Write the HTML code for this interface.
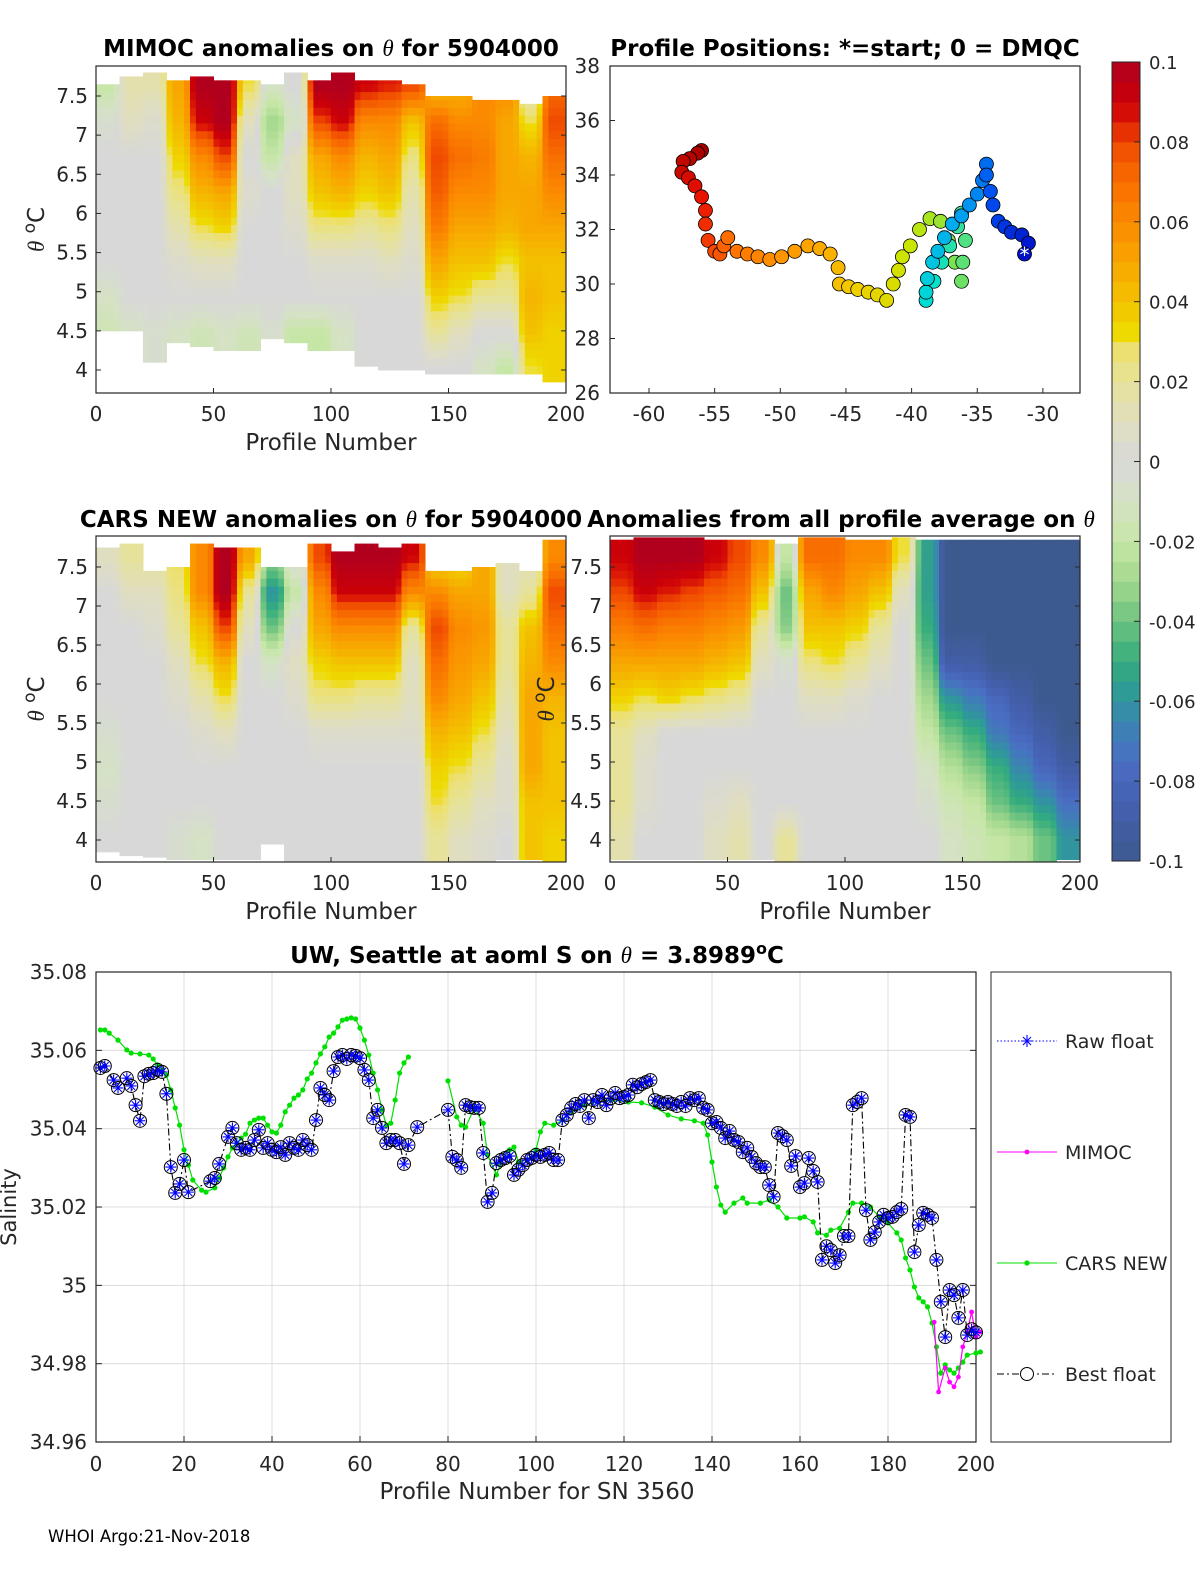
<!DOCTYPE html>
<html><head><meta charset="utf-8"><title>Float 5904000 anomalies</title>
<style>
html,body{margin:0;padding:0;background:#fff;}
svg{display:block;font-family:"DejaVu Sans","Liberation Sans",sans-serif;}
.t{font-size:20px;fill:#262626;}
.b{font-weight:bold;font-size:23px;fill:#000;}
</style></head>
<body>
<svg id="fig" width="1200" height="1575" viewBox="0 0 1200 1575" xmlns="http://www.w3.org/2000/svg"></svg>
<script>
// ---------------- data ----------------
const mimocGrid = [
[-0.02,-0.005,0,0,0,0,-0.01,-0.015,null],
[0.015,0.01,0,0,0,0,0,-0.01,null],
[0.015,0.005,0,0,0,0,0,-0.005,null],
[0.05,0.045,0.035,0.025,0.015,0.005,0,-0.01,null],
[0.1,0.09,0.06,0.045,0.03,0.01,0,-0.015,null],
[0.1,0.1,0.08,0.05,0.035,0.01,0,-0.01,null],
[0.03,0.01,0,0.005,0,0,0,-0.015,null],
[-0.01,-0.03,-0.02,0,0,0,0,-0.005,null],
[0,-0.01,0.01,0.01,0.005,0,0,-0.02,null],
[0.1,0.08,0.05,0.04,0.025,0.005,0,-0.02,null],
[0.1,0.09,0.06,0.045,0.025,0.005,0,-0.01,null],
[0.09,0.06,0.045,0.035,0.02,0.005,0,0,null],
[0.085,0.06,0.05,0.04,0.025,0.01,0,0,0],
[0.08,0.04,0.025,0.015,0.01,0.005,0,0,0],
[0.04,0.07,0.08,0.075,0.065,0.05,0.035,0.02,0],
[0.045,0.06,0.07,0.06,0.05,0.04,0.03,0.01,0],
[0.06,0.06,0.065,0.06,0.05,0.04,0.02,0,-0.01],
[0.06,0.05,0.05,0.05,0.045,0.03,0.02,0,-0.02],
[0.01,0.03,0.045,0.05,0.05,0.04,0.045,0.04,0.03],
[0.07,0.08,0.07,0.06,0.05,0.04,0.04,0.035,0.035]];
const mimocTop = [7.65,7.75,7.8,7.7,7.75,7.7,7.7,7.65,7.8,7.7,7.8,7.7,7.7,7.65,7.5,7.5,7.45,7.45,7.4,7.5];
const mimocBot = [4.5,4.5,4.1,4.35,4.3,4.25,4.25,4.4,4.35,4.25,4.25,4.05,4.0,4.0,3.95,3.95,3.95,3.95,3.95,3.85];

const carsGrid = [
[0.01,0,0,0,0,-0.005,-0.01,-0.005,0],
[0.02,0.01,0,0,0,0,0,0,0],
[0.02,0.01,0.005,0,0,0,0,0,0],
[0.03,0.025,0.02,0.01,0.005,0,0,0,-0.005],
[0.06,0.06,0.04,0.03,0.015,0.005,0,0,-0.01],
[0.1,0.1,0.08,0.045,0.03,0.01,0,0,0],
[0.05,0.02,0.01,0,0,0,0,0,0],
[-0.03,-0.06,-0.04,-0.01,0,0,0,0,0],
[0,-0.02,0,0.01,0.005,0,0,0,0],
[0.08,0.06,0.05,0.035,0.025,0.005,0,0,0],
[0.1,0.09,0.06,0.04,0.025,0.005,0,0,0],
[0.1,0.09,0.06,0.04,0.02,0.005,0,0,0],
[0.1,0.09,0.06,0.04,0.02,0.005,0,0,0],
[0.09,0.06,0.02,0.01,0.01,0.005,0,0,0],
[0.03,0.06,0.08,0.07,0.06,0.045,0.035,0.03,0.02],
[0.03,0.05,0.06,0.055,0.05,0.04,0.03,0.02,0.01],
[0.05,0.05,0.055,0.05,0.04,0.03,0.02,0.01,0.005],
[0.01,0.01,0.02,0.02,0.015,0.01,0.005,0.005,0],
[0.01,0.02,0.04,0.045,0.05,0.05,0.05,0.04,0.04],
[0.06,0.08,0.07,0.06,0.045,0.04,0.04,0.04,0.035]];
const carsTop = [7.75,7.8,7.45,7.5,7.8,7.75,7.75,7.5,7.5,7.8,7.7,7.8,7.75,7.8,7.45,7.45,7.5,7.55,7.45,7.85];
const carsBot = [3.85,3.8,3.78,3.75,3.75,3.75,3.75,3.95,3.72,3.72,3.72,3.72,3.72,3.72,3.72,3.72,3.72,3.75,3.75,3.72];

const avgGrid = [
[0.09,0.08,0.065,0.05,0.035,0.02,0.02,0.02,0.015],
[0.1,0.09,0.07,0.05,0.03,0.01,0.005,0.005,0],
[0.1,0.085,0.065,0.05,0.035,0,0,0,0],
[0.1,0.08,0.065,0.05,0.03,0,0,0,0],
[0.09,0.075,0.06,0.045,0.025,0,0,0.005,0.01],
[0.08,0.07,0.055,0.04,0.02,0,0,0.01,0.015],
[0.06,0.04,0.02,0.01,0,0,0,0,0],
[-0.02,-0.04,-0.035,-0.005,0,0,0,0,0.02],
[0.07,0.05,0.04,0.025,0.01,0,0,0,0],
[0.07,0.06,0.04,0.03,0.01,0,0,0,0],
[0.06,0.05,0.035,0.02,0.005,0,0,0,0],
[0.06,0.04,0.02,0.01,0,0,0,0,0],
[0.03,0.01,0,0,0,0,0,0,0],
[-0.055,-0.055,-0.05,-0.04,-0.03,-0.02,-0.01,-0.005,0],
[-0.1,-0.1,-0.1,-0.09,-0.06,-0.04,-0.025,-0.015,-0.01],
[-0.1,-0.1,-0.1,-0.09,-0.07,-0.05,-0.035,-0.02,-0.015],
[-0.1,-0.1,-0.1,-0.1,-0.08,-0.07,-0.05,-0.04,-0.02],
[-0.1,-0.1,-0.1,-0.1,-0.09,-0.08,-0.065,-0.05,-0.025],
[-0.1,-0.1,-0.1,-0.1,-0.1,-0.09,-0.08,-0.06,-0.04],
[-0.1,-0.1,-0.1,-0.1,-0.1,-0.1,-0.09,-0.075,-0.06]];
const avgTop = [7.85,7.88,7.88,7.88,7.85,7.85,7.85,7.8,7.88,7.88,7.85,7.85,7.88,7.85,7.85,7.85,7.85,7.85,7.85,7.85];
const avgBot = [3.75,3.75,3.75,3.75,3.75,3.75,3.75,3.72,3.72,3.72,3.72,3.72,3.72,3.72,3.72,3.72,3.72,3.72,3.72,3.75];

const thetaTicks = [4,4.5,5,5.5,6,6.5,7,7.5];
const profTicks = [0,50,100,150,200];

const trackLon = [-31.4,-31.1,-31.6,-32.4,-32.9,-33.4,-33.8,-34.0,-34.3,-34.3,-34.6,-35.0,-35.6,-36.2,-36.9,-37.5,-38.0,-38.4,-38.8,-38.9,-38.9,-38.3,-37.7,-37.1,-36.5,-36.2,-35.9,-36.1,-36.2,-36.7,-37.2,-37.8,-38.6,-39.4,-40.1,-40.7,-41.0,-41.4,-41.9,-42.6,-43.3,-44.1,-44.8,-45.5,-45.6,-46.2,-47.0,-47.9,-48.9,-49.9,-50.8,-51.7,-52.5,-53.3,-54.0,-54.3,-54.6,-55.0,-55.5,-55.7,-55.7,-56.0,-56.5,-57.0,-57.5,-57.4,-56.9,-56.3,-56.0];
const trackLat = [31.1,31.5,31.8,31.9,32.1,32.3,32.9,33.4,34.0,34.4,33.8,33.3,32.9,32.5,32.2,31.7,31.2,30.8,30.2,29.7,29.4,30.1,30.8,31.4,32.1,32.6,31.6,30.8,30.1,30.8,31.6,32.3,32.4,32.0,31.4,31.0,30.5,30.0,29.4,29.6,29.7,29.8,29.9,30.0,30.6,31.1,31.3,31.4,31.2,31.0,30.9,31.0,31.1,31.2,31.7,31.4,31.1,31.2,31.6,32.2,32.7,33.2,33.6,33.9,34.1,34.5,34.6,34.8,34.9];
const lonTicks = [-60,-55,-50,-45,-40,-35,-30];
const latTicks = [26,28,30,32,34,36,38];

const bestP = [1,2,4,5,7,8,9,10,11,12,13,14,15,16,17,18,19,20,21,26,27,28,30,31,32,33,34,35,36,37,38,39,40,41,42,43,44,45,46,47,48,49,50,51,52,53,54,55,56,57,58,59,60,61,62,63,64,65,66,67,68,69,70,71,73,80,81,82,83,84,85,86,87,88,89,90,91,92,93,94,95,96,97,98,99,100,101,102,103,104,105,106,107,108,109,110,111,112,113,114,115,116,117,118,119,120,121,122,123,124,125,126,127,128,129,130,131,132,133,134,135,136,137,138,139,140,141,142,143,144,145,146,147,148,149,150,151,152,153,154,155,156,157,158,159,160,161,162,163,164,165,166,167,168,169,170,171,172,173,174,175,176,177,178,179,180,181,182,183,184,185,186,187,188,189,190,191,192,193,194,195,196,197,198,199,200];
const bestS = [35.0555,35.0560,35.0524,35.0504,35.0529,35.0509,35.0460,35.0420,35.0534,35.0540,35.0542,35.0550,35.0545,35.0489,35.0302,35.0236,35.0259,35.0320,35.0238,35.0266,35.0274,35.0310,35.0379,35.0402,35.0363,35.0346,35.0351,35.0346,35.0371,35.0397,35.0351,35.0363,35.0346,35.0340,35.0353,35.0333,35.0363,35.0351,35.0346,35.0371,35.0358,35.0346,35.0422,35.0504,35.0486,35.0473,35.0547,35.0583,35.0588,35.0578,35.0588,35.0586,35.0580,35.0550,35.0524,35.0427,35.0448,35.0402,35.0363,35.0371,35.0371,35.0363,35.0310,35.0358,35.0404,35.0448,35.0328,35.0320,35.0300,35.0460,35.0455,35.0453,35.0453,35.0338,35.0213,35.0236,35.0312,35.0320,35.0325,35.0330,35.0282,35.0295,35.0307,35.0320,35.0325,35.0333,35.0328,35.0333,35.0338,35.0320,35.0320,35.0422,35.0435,35.0453,35.0463,35.0458,35.0473,35.0427,35.0473,35.0468,35.0486,35.0460,35.0478,35.0491,35.0478,35.0481,35.0486,35.0512,35.0506,35.0514,35.0519,35.0524,35.0473,35.0468,35.0463,35.0468,35.0463,35.0458,35.0468,35.0458,35.0478,35.0473,35.0478,35.0453,35.0448,35.0414,35.0417,35.0402,35.0376,35.0394,35.0371,35.0366,35.0340,35.0351,35.0328,35.0312,35.0302,35.0302,35.0256,35.0226,35.0389,35.0381,35.0371,35.0305,35.0330,35.0251,35.0261,35.0325,35.0292,35.0264,35.0065,35.0100,35.0090,35.0057,35.0077,35.0126,35.0126,35.0460,35.0468,35.0478,35.0192,35.0116,35.0136,35.0162,35.0180,35.0172,35.0175,35.0187,35.0195,35.0435,35.0430,35.0085,35.0154,35.0185,35.0180,35.0172,35.0065,34.9958,34.9868,34.9988,34.9975,34.9917,34.9988,34.9873,34.9888,34.9880];
const carsP1 = [1,2,3,5,7,8,10,12,13,14,15,16,17,18,19,20,21,22,24,25,27,28,29,30,31,32,33,34,35,36,37,38,39,40,41,42,43,44,45,46,47,48,49,50,51,52,53,54,55,56,57,58,59,60,61,62,63,64,65,66,67,68,69,70,71];
const carsS1 = [35.0652,35.0652,35.0644,35.0626,35.0601,35.0593,35.0591,35.0588,35.0578,35.0563,35.0550,35.0537,35.0499,35.0453,35.0409,35.0346,35.0307,35.0269,35.0243,35.0238,35.0249,35.0274,35.0300,35.0328,35.0351,35.0363,35.0376,35.0386,35.0414,35.0422,35.0427,35.0427,35.0409,35.0392,35.0389,35.0409,35.0443,35.0460,35.0478,35.0486,35.0499,35.0527,35.0542,35.0568,35.0591,35.0609,35.0634,35.0644,35.0660,35.0677,35.0680,35.0683,35.0680,35.0657,35.0626,35.0588,35.0542,35.0499,35.0448,35.0409,35.0414,35.0473,35.0542,35.0568,35.0583];
const carsP2 = [80,82,83,84,86,88,89,91,92,94,95,96,99,100,101,102,104,106,108,111,114,117,121,124,127,130,133,136,138,139,140,141,142,143,145,147,148,151,153,155,157,160,161,163,164,166,167,169,171,172,174,176,178,180,182,183,184,185,186,187,188,189,190,191,192,193,194,195,196,197,198,200,201];
const carsS2 = [35.0522,35.0430,35.0409,35.0404,35.0453,35.0414,35.0333,35.0282,35.0312,35.0346,35.0353,35.0315,35.0325,35.0346,35.0392,35.0414,35.0409,35.0422,35.0443,35.0460,35.0468,35.0473,35.0468,35.0466,35.0455,35.0435,35.0425,35.0420,35.0414,35.0384,35.0315,35.0251,35.0205,35.0187,35.0210,35.0223,35.0210,35.0210,35.0218,35.0200,35.0172,35.0172,35.0175,35.0162,35.0134,35.0128,35.0141,35.0146,35.0187,35.0210,35.0210,35.0200,35.0175,35.0159,35.0134,35.0116,35.0070,35.0039,34.9996,34.9968,34.9958,34.9945,34.9904,34.9843,34.9776,34.9797,34.9784,34.9776,34.9789,34.9804,34.9822,34.9827,34.9830];
const mimocP = [190.5,191.5,193,194,195,196,197,198,199,200,201];
const mimocS = [34.9906,34.9728,34.9789,34.9753,34.9741,34.9766,34.9843,34.9881,34.9932,34.9868,34.9881];
const salTicks = [34.96,34.98,35,35.02,35.04,35.06,35.08];
const salTickLabels = ["34.96","34.98","35","35.02","35.04","35.06","35.08"];
const profTicks2 = [0,20,40,60,80,100,120,140,160,180,200];
const cbTicks = [-0.1,-0.08,-0.06,-0.04,-0.02,0,0.02,0.04,0.06,0.08,0.1];
const cbLabels = ["-0.1","-0.08","-0.06","-0.04","-0.02","0","0.02","0.04","0.06","0.08","0.1"];

// ---------------- helpers ----------------
const NS = "http://www.w3.org/2000/svg";
const svg = document.getElementById("fig");
function mk(tag, parent){ const e=document.createElementNS(NS,tag); (parent||svg).appendChild(e); return e; }
function set(e,o){ for(const k in o) e.setAttribute(k,o[k]); return e; }
function txt(parent,x,y,s,anchor,cls){ const t=mk("text",parent); set(t,{x:x,y:y,"text-anchor":anchor||"middle",class:cls||"t"}); t.textContent=s; return t; }
function fs(e,px){ e.style.fontSize=px+"px"; }

const cmStops = [[-0.1,"#3d5a8f"],[-0.085,"#4560b0"],[-0.075,"#4a6ec4"],[-0.065,"#3a86b0"],[-0.058,"#2e9a98"],[-0.05,"#35ad7c"],[-0.04,"#6cc280"],[-0.03,"#a3d88e"],[-0.02,"#c6e6a6"],[-0.01,"#d5e2c4"],[0,"#d8d8d8"],[0.01,"#e0dec0"],[0.02,"#e6e29a"],[0.028,"#ede070"],[0.032,"#eedb00"],[0.04,"#f3c200"],[0.05,"#f8a600"],[0.06,"#fb8a00"],[0.07,"#f86e00"],[0.08,"#f04a00"],[0.085,"#dc1a06"],[0.09,"#cc0008"],[0.1,"#b0001e"]];
function hex2(h){ return [parseInt(h.substr(1,2),16),parseInt(h.substr(3,2),16),parseInt(h.substr(5,2),16)]; }
function cmap(v){
  v=Math.max(-0.1,Math.min(0.1,v));
  for(let i=0;i<cmStops.length-1;i++){
    const a=cmStops[i],b=cmStops[i+1];
    if(v>=a[0]&&v<=b[0]){ const t=(v-a[0])/(b[0]-a[0]); const ca=hex2(a[1]),cb=hex2(b[1]);
      return "rgb("+ca.map((c,j)=>Math.round(c+(cb[j]-c)*t)).join(",")+")"; }
  }
  return cmStops[cmStops.length-1][1];
}
const trackStops = ["#0010c8","#0050f0","#00a8f0","#00e0d0","#60e070","#c8e600","#f0d000","#ffa000","#ff6a00","#e81000","#a00000"];
function tcol(t){ const n=trackStops.length-1; const i=Math.min(n-1,Math.floor(t*n)); const f=t*n-i;
  const a=hex2(trackStops[i]),b=hex2(trackStops[i+1]); return "rgb("+a.map((c,j)=>Math.round(c+(b[j]-c)*f)).join(",")+")"; }

function gridVal(grid,c,r){
  c=Math.max(0,Math.min(grid.length-1,c)); r=Math.max(0,Math.min(grid[0].length-1,r));
  let v=grid[c][r]; while(v===null&&r>0){ r--; v=grid[c][r]; } return v;
}
function sample(grid,p,th){
  const fc=(p-5)/10, fr=(7.625-th)/0.45;
  const c0=Math.floor(fc), r0=Math.floor(fr), tc=fc-c0, tr=fr-r0;
  const tcs=Math.max(0,Math.min(1,(tc-0.3)/0.4));
  const a=gridVal(grid,c0,r0)*(1-tcs)+gridVal(grid,c0+1,r0)*tcs;
  const b=gridVal(grid,c0,r0+1)*(1-tcs)+gridVal(grid,c0+1,r0+1)*tcs;
  return a*(1-tr)+b*tr;
}

// ---------------- heatmap panel ----------------
function heatPanel(name, box, th75y, th4y, grid, tops, bots, ylabelX, ytickX){
  const g=mk("g");  
  const x0=box[0],x1=box[1],y0=box[2],y1=box[3];
  const xs=p=>x0+(x1-x0)*p/200;
  const ys=th=>th75y+(7.5-th)*(th4y-th75y)/3.5;
  const cells=mk("g",g);  
  const dP=2.5, dT=0.1;
  for(let p=0;p<200;p+=dP){
    const c=Math.floor(p/10);
    for(let hi=7.95; hi>3.6; hi-=dT){
      let top=Math.min(hi,tops[c]), lo=Math.max(hi-dT,bots[c]);
      if(top<=lo) continue;
      const ya=Math.max(y0,ys(top)), yb=Math.min(y1,ys(lo));
      if(yb<=ya) continue;
      const v=sample(grid,p+dP/2,(top+lo)/2);
      const rc=mk("rect",cells);
      
      
      set(rc,{x:xs(p).toFixed(2),y:ya.toFixed(2),width:(xs(p+dP)-xs(p)+0.5).toFixed(2),height:(yb-ya+0.5).toFixed(2),fill:cmap(v)});
    }
  }
  const fr=mk("rect",g);  
  set(fr,{x:x0,y:y0,width:x1-x0,height:y1-y0,fill:"none",stroke:"#262626","stroke-width":1.2});
  thetaTicks.forEach(t=>{
    const y=ys(t);
    const tk=mk("line",g); set(tk,{x1:x0,x2:x0+5,y1:y,y2:y,stroke:"#262626"});
    const tk2=mk("line",g); set(tk2,{x1:x1,x2:x1-5,y1:y,y2:y,stroke:"#262626"});
    const l=txt(g,ytickX,y+7,String(t),"end");
     
  });
  profTicks.forEach(p=>{
    const x=xs(p);
    const tk=mk("line",g); set(tk,{x1:x,x2:x,y1:y1,y2:y1-5,stroke:"#262626"});
    const l=txt(g,x,y1+28,String(p));
     
  });
  const xl=txt(g,(x0+x1)/2,y1+57,"Profile Number"); fs(xl,23);
   
  const yl=mk("text",g); set(yl,{transform:"translate("+ylabelX+","+((y0+y1)/2)+") rotate(-90)","text-anchor":"middle",class:"t"});
  fs(yl,23);
   
  yl.innerHTML='<tspan font-family="Liberation Serif,serif" font-style="italic">θ</tspan> <tspan dy="-9" style="font-size:17px">o</tspan><tspan dy="9">C</tspan>';
  return g;
}

heatPanel("mimoc-anomaly-panel",[96,566,66,393],96,370,mimocGrid,mimocTop,mimocBot,44,88);
heatPanel("cars-anomaly-panel",[96,566,536,862],567,840,carsGrid,carsTop,carsBot,44,88);
heatPanel("average-anomaly-panel",[610,1080,536,862],567,840,avgGrid,avgTop,avgBot,554,602);

function btitle(x,y,html,name){ const t=mk("text"); set(t,{x:x,y:y,"text-anchor":"middle",class:"b"}); t.innerHTML=html;
    return t; }
const th='<tspan font-family="Liberation Serif,serif" font-style="italic" font-weight="normal">θ</tspan>';
btitle(331,56,"MIMOC anomalies on "+th+"  for 5904000","mimoc-title");
btitle(845,56,"Profile Positions: *=start; 0 = DMQC","map-title");
btitle(331,527,"CARS NEW anomalies on "+th+" for 5904000","cars-title");
btitle(841,527,"Anomalies from all profile average on "+th,"average-title");
btitle(537,963,'UW, Seattle at aoml S on '+th+' = 3.8989<tspan dy="-9" style="font-size:16px">o</tspan><tspan dy="9">C</tspan>',"salinity-title");

// ---------------- map panel ----------------
(function(){
  const g=mk("g");  
  const X=lon=>649+(lon+60)*13.13, Y=lat=>66+(38-lat)*27.25;
  const fr=mk("rect",g); set(fr,{x:610,y:66,width:470,height:327,fill:"none",stroke:"#262626","stroke-width":1.2});
   
  lonTicks.forEach(v=>{ const x=X(v); const tk=mk("line",g); set(tk,{x1:x,x2:x,y1:393,y2:388,stroke:"#262626"});
    const l=txt(g,x,421,String(v));   });
  latTicks.forEach(v=>{ const y=Y(v); const tk=mk("line",g); set(tk,{x1:610,x2:615,y1:y,y2:y,stroke:"#262626"});
    const l=txt(g,600,y+7,String(v),"end");   });
  const n=trackLon.length;
  for(let i=n-1;i>=0;i--){
    const c=mk("circle",g);
    
    
    set(c,{cx:X(trackLon[i]),cy:Y(trackLat[i]),r:7,fill:tcol(i/(n-1)),stroke:"#000","stroke-width":0.8});
  }
  const s=mk("text",g); set(s,{x:X(trackLon[0]),y:Y(trackLat[0])+8,"text-anchor":"middle",fill:"#fff"}); fs(s,20); s.textContent="*";
   
})();

// ---------------- colorbar ----------------
(function(){
  const g=mk("g");  
  const y0=62,y1=861, N=40;
  for(let i=0;i<N;i++){
    const v=-0.1+(i+0.5)*0.2/N;
    const r=mk("rect",g);
    
    
    const ya=y1-(i+1)*(y1-y0)/N;
    set(r,{x:1112,y:ya,width:28,height:(y1-y0)/N+0.5,fill:cmap(v)});
  }
  const fr=mk("rect",g); set(fr,{x:1112,y:y0,width:28,height:y1-y0,fill:"none",stroke:"#262626","stroke-width":1});
  cbTicks.forEach((v,i)=>{ const y=y1-(v+0.1)/0.2*(y1-y0);
    const tk=mk("line",g); set(tk,{x1:1134,x2:1140,y1:y,y2:y,stroke:"#262626"});
    const l=txt(g,1149,y+7,cbLabels[i],"start"); fs(l,18);
      });
})();

// ---------------- salinity chart ----------------
(function(){
  const g=mk("g");  
  const X=p=>96+p*4.4, Y=s=>972+(35.08-s)*3917;
  const bg=mk("rect",g); set(bg,{x:96,y:972,width:880,height:470,fill:"#fff"});
  profTicks2.forEach(p=>{ const x=X(p);
    const gl=mk("line",g); set(gl,{x1:x,x2:x,y1:972,y2:1442,stroke:"#dcdcdc","stroke-width":1});
     
    const tk=mk("line",g); set(tk,{x1:x,x2:x,y1:1442,y2:1436,stroke:"#262626"});
    const l=txt(g,x,1471,String(p));   });
  salTicks.forEach((s,i)=>{ const y=Y(s);
    const gl=mk("line",g); set(gl,{x1:96,x2:976,y1:y,y2:y,stroke:"#dcdcdc","stroke-width":1});
     
    const tk=mk("line",g); set(tk,{x1:96,x2:102,y1:y,y2:y,stroke:"#262626"});
    const tk2=mk("line",g); set(tk2,{x1:976,x2:970,y1:y,y2:y,stroke:"#262626"});
    const l=txt(g,87,y+7,salTickLabels[i],"end");   });
  const fr=mk("rect",g); set(fr,{x:96,y:972,width:880,height:470,fill:"none",stroke:"#262626","stroke-width":1.2});
   
  const pts=(P,S)=>P.map((p,i)=>X(p).toFixed(1)+","+Y(S[i]).toFixed(1)).join(" ");
  [[carsP1,carsS1],[carsP2,carsS2]].forEach(a=>{
    const pl=mk("polyline",g); set(pl,{points:pts(a[0],a[1]),fill:"none",stroke:"#00e000","stroke-width":1.2});
     
    a[0].forEach((p,i)=>{ const d=mk("circle",g); set(d,{cx:X(p),cy:Y(a[1][i]),r:2.6,fill:"#00e000"});
        });
  });
  const mp=mk("polyline",g); set(mp,{points:pts(mimocP,mimocS),fill:"none",stroke:"#ff00ff","stroke-width":1.2});
   
  mimocP.forEach((p,i)=>{ const d=mk("circle",g); set(d,{cx:X(p),cy:Y(mimocS[i]),r:2.4,fill:"#ff00ff"});
      });
  const bl=mk("polyline",g); set(bl,{points:pts(bestP,bestS),fill:"none",stroke:"#000","stroke-width":1.1,"stroke-dasharray":"7,3,2,3"});
   
  bestP.forEach((p,i)=>{
    const cx=X(p), cy=Y(bestS[i]);
    const m=mk("g",g);
    
    
    const c=mk("circle",m); set(c,{cx:cx,cy:cy,r:6.5,fill:"none",stroke:"#000","stroke-width":1});
    const a=5.5,b=3.9;
    const ast=mk("path",m); set(ast,{d:`M${cx-a},${cy}H${cx+a}M${cx},${cy-a}V${cy+a}M${cx-b},${cy-b}L${cx+b},${cy+b}M${cx-b},${cy+b}L${cx+b},${cy-b}`,stroke:"#0000ff","stroke-width":1.1,fill:"none"});
  });
  const xl=txt(g,537,1499,"Profile Number for SN 3560"); fs(xl,23);
   
  const yl=mk("text",g); set(yl,{transform:"translate(16,1207) rotate(-90)","text-anchor":"middle",class:"t"}); yl.textContent="Salinity";
  fs(yl,21);
   
})();

// ---------------- legend ----------------
(function(){
  const g=mk("g");  
  const fr=mk("rect",g); set(fr,{x:991,y:972,width:180,height:470,fill:"#fff",stroke:"#262626","stroke-width":1});
  const ys=[1041,1152,1263,1374];
  const names=["Raw float","MIMOC","CARS NEW","Best float"];
  const keys=["legend-raw-float","legend-mimoc","legend-cars-new","legend-best-float"];
  ys.forEach((y,i)=>{
    const e=mk("g",g);
    
    
    const ln=mk("line",e);
    if(i===0){ set(ln,{x1:997,x2:1057,y1:y,y2:y,stroke:"#0000ff","stroke-dasharray":"1.5,2"});
      const a=mk("path",e); set(a,{d:`M1021,${y}H1033M1027,${y-6}V${y+6}M1023,${y-4}L1031,${y+4}M1023,${y+4}L1031,${y-4}`,stroke:"#0000ff","stroke-width":1.1}); }
    if(i===1){ set(ln,{x1:997,x2:1057,y1:y,y2:y,stroke:"#ff00ff"}); const d=mk("circle",e); set(d,{cx:1027,cy:y,r:2.4,fill:"#ff00ff"}); }
    if(i===2){ set(ln,{x1:997,x2:1057,y1:y,y2:y,stroke:"#00e000"}); const d=mk("circle",e); set(d,{cx:1027,cy:y,r:2.6,fill:"#00e000"}); }
    if(i===3){ set(ln,{x1:997,x2:1057,y1:y,y2:y,stroke:"#000","stroke-dasharray":"7,3,2,3"}); const d=mk("circle",e); set(d,{cx:1027,cy:y,r:6.5,fill:"#fff",stroke:"#000"}); }
    const l=txt(e,1065,y+7,names[i],"start"); fs(l,19);
  });
})();

const ft=txt(svg,48,1542,"WHOI Argo:21-Nov-2018","start"); fs(ft,16.5); ft.setAttribute("fill","#000"); ft.style.fill="#000";
 
</script>
</body></html>
